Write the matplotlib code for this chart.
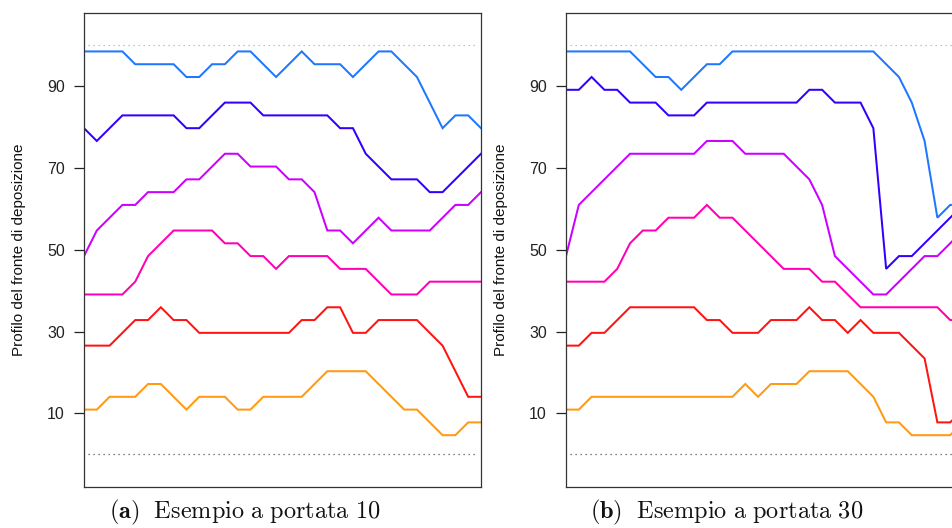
import matplotlib
matplotlib.use("Agg")
import matplotlib.pyplot as plt
import numpy as np

# Grid rows (0..31) of the deposition front for each column, per panel
N_ROWS = 32
y_ticks = [10, 30, 50, 70, 90]
ref_lines = [0, 100]
colors = ["#1E78FF", "#3300FF", "#CC00FF", "#FF00B4", "#FF1414", "#FF9A14"]

# Panel (a): portata 10
a_blue   = [31,31,31,31,30,30,30,30,29,29,30,30,31,31,30,29,30,31,30,30,30,29,30,31,31,30,29,27,25,26,26,25]
a_indigo = [25,24,25,26,26,26,26,26,25,25,26,27,27,27,26,26,26,26,26,26,25,25,23,22,21,21,21,20,20,21,22,23]
a_purple = [15,17,18,19,19,20,20,20,21,21,22,23,23,22,22,22,21,21,20,17,17,16,17,18,17,17,17,17,18,19,19,20]
a_pink   = [12,12,12,12,13,15,16,17,17,17,17,16,16,15,15,14,15,15,15,15,14,14,14,13,12,12,12,13,13,13,13,13]
a_red    = [8,8,8,9,10,10,11,10,10,9,9,9,9,9,9,9,9,10,10,11,11,9,9,10,10,10,10,9,8,6,4,4]
a_orange = [3,3,4,4,4,5,5,4,3,4,4,4,3,3,4,4,4,4,5,6,6,6,6,5,4,3,3,2,1,1,2,2]

# Panel (b): portata 30
b_blue   = [31,31,31,31,31,31,30,29,29,28,29,30,30,31,31,31,31,31,31,31,31,31,31,31,31,30,29,27,24,18,19,19]
b_indigo = [28,28,29,28,28,27,27,27,26,26,26,27,27,27,27,27,27,27,27,28,28,27,27,27,25,14,15,15,16,17,18,19]
b_purple = [15,19,20,21,22,23,23,23,23,23,23,24,24,24,23,23,23,23,22,21,19,15,14,13,12,12,13,14,15,15,16,17]
b_pink   = [13,13,13,13,14,16,17,17,18,18,18,19,18,18,17,16,15,14,14,14,13,13,12,11,11,11,11,11,11,11,10,10]
b_red    = [8,8,9,9,10,11,11,11,11,11,11,10,10,9,9,9,10,10,10,11,10,10,9,10,9,9,9,8,7,2,2,3]
b_orange = [3,3,4,4,4,4,4,4,4,4,4,4,4,4,5,4,5,5,5,6,6,6,6,5,4,2,2,1,1,1,1,2]

captions = [r"$\mathbf{(a)}\ \ \mathrm{Esempio\ a\ portata\ 10}$",
            r"$\mathbf{(b)}\ \ \mathrm{Esempio\ a\ portata\ 30}$"]
ylabel = "Profilo del fronte di deposizione"

panels = [
    [a_blue, a_indigo, a_purple, a_pink, a_red, a_orange],
    [b_blue, b_indigo, b_purple, b_pink, b_red, b_orange],
]

plt.rcParams["mathtext.fontset"] = "cm"
plt.rcParams["font.family"] = ["Liberation Sans", "DejaVu Sans"]

W, H = 952, 528
fig = plt.figure(figsize=(W / 100, H / 100), dpi=100)

ax_left_px = [84, 566]
ax_w = 397
ax_top, ax_bot = 12.7, 486.7

for p, series in enumerate(panels):
    ax = fig.add_axes([ax_left_px[p] / W, 1 - ax_bot / H, ax_w / W, (ax_bot - ax_top) / H])
    x = np.arange(len(series[0]))
    ax.hlines(ref_lines[1], 0.3, len(x) - 1.3, colors="#b0b0b0", linestyles=(0, (1, 3)), lw=0.9)
    ax.hlines(ref_lines[0], 0.3, len(x) - 1.3, colors="#555555", linestyles=(0, (1, 3)), lw=0.9)
    for s, c in zip(series, colors):
        vals = (np.array(s) + 0.5) * 100.0 / N_ROWS
        ax.plot(x, vals, color=c, lw=1.45, solid_joinstyle="miter")
    ax.set_xlim(0, len(x) - 1)
    ax.set_ylim(-7.9, 107.9)
    ax.set_xticks([])
    ax.set_yticks(y_ticks)
    ax.tick_params(axis="y", direction="out", length=7.2, width=0.9, pad=6.5,
                   labelsize=11.5, colors="#222222")
    for sp in ax.spines.values():
        sp.set_color("#333333")
        sp.set_linewidth(0.9)
    ax.set_ylabel(ylabel, fontsize=11, color="#111111", labelpad=15)
    fig.text((ax_left_px[p] + 161) / W, 1 - 512 / H, captions[p],
             ha="center", va="center", fontsize=17.5, color="#111111")

fig.savefig("out.png", dpi=100)
